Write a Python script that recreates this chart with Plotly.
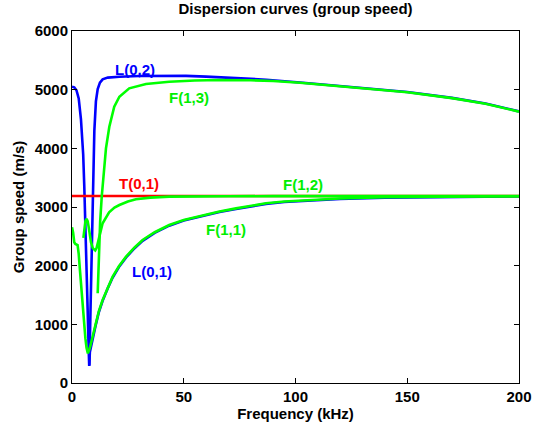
import plotly.graph_objects as go

# ---- data ----
f_L01 = [0, 1, 2, 3, 4, 4.5, 5, 5.5, 6, 6.5, 7, 7.4, 7.7, 8, 9, 10.7, 12, 13.7, 16, 18.2, 21, 24.2, 28, 31.6, 37, 43.5, 50, 58.5, 66, 73.4, 80, 86.8, 95, 105, 120, 140, 165, 200]
v_L01 = [5050, 5040, 4990, 4850, 4500, 4250, 3900, 3350, 2750, 2000, 1250, 650, 290, 530, 720, 1000, 1205, 1400, 1615, 1797, 1977, 2140, 2297, 2424, 2558, 2681, 2769, 2852, 2914, 2967, 3010, 3053, 3085, 3110, 3136, 3157, 3170, 3180]

f_L02 = [7.75, 8.0, 8.3, 8.6, 8.9, 9.2, 9.6, 10, 10.7, 11.5, 12.5, 13.7, 16, 21.2, 30, 40, 51, 60, 75, 87, 102, 115, 130, 150, 170, 185, 200]
v_L02 = [300, 700, 1200, 1800, 2500, 3100, 3750, 4300, 4800, 5010, 5120, 5176, 5205, 5220, 5232, 5237, 5235, 5222, 5200, 5170, 5122, 5080, 5025, 4960, 4860, 4765, 4630]

f_T01 = [0, 50, 100, 150, 200]
v_T01 = [3188, 3188, 3188, 3188, 3188]

f_F11 = [0, 0.5, 1, 1.5, 2.5, 3, 3.5, 4, 4.5, 5, 5.5, 6, 6.5, 7.1, 8, 9, 10.7, 12, 13.7, 16, 18.2, 21, 24.2, 28, 31.6, 37, 43.5, 50, 58.5, 66, 73.4, 80, 86.8, 95, 105, 120, 140, 165, 200]
v_F11 = [2654, 2560, 2400, 2370, 2350, 2200, 1950, 1690, 1450, 1200, 960, 760, 600, 504, 600, 760, 1018, 1220, 1415, 1630, 1812, 1990, 2153, 2310, 2437, 2570, 2693, 2780, 2863, 2925, 2977, 3020, 3063, 3095, 3120, 3145, 3165, 3176, 3184]

f_F12 = [5.1, 5.5, 6, 6.5, 7, 7.5, 8, 8.5, 9.3, 10.4, 11, 12.2, 13, 13.7, 16.6, 19, 21.2, 25, 28.6, 35, 43.5, 55, 70, 90, 120, 200]
v_F12 = [2474, 2650, 2760, 2796, 2760, 2650, 2520, 2400, 2300, 2260, 2300, 2480, 2620, 2722, 2910, 2990, 3034, 3095, 3131, 3160, 3176, 3182, 3184, 3185, 3186, 3186]

f_F13 = [11.5, 12.0, 12.6, 13.3, 14.2, 15.2, 16.7, 18.9, 21.2, 25.6, 33.1, 43.5, 55, 66, 80, 90, 102, 115, 130, 150, 170, 185, 200]
v_F13 = [1530, 2200, 2750, 3175, 3650, 4000, 4369, 4710, 4880, 5023, 5097, 5136, 5155, 5164, 5160, 5148, 5117, 5076, 5021, 4956, 4856, 4761, 4626]

labels = ["L(0,2)", "F(1,3)", "T(0,1)", "F(1,2)", "F(1,1)", "L(0,1)"]
label_f = [28.2, 52.3, 30.0, 103.4, 68.9, 35.8]
label_v = [5348, 4873, 3396, 3379, 2615, 1902]
label_col = ["#0000FF", "#00EE00", "#FF0000", "#00EE00", "#00EE00", "#0000FF"]

x_ticks = [0, 50, 100, 150, 200]
y_ticks = [0, 1000, 2000, 3000, 4000, 5000, 6000]

BLUE = "#0000FF"
RED = "#FF0000"
GREEN = "#00FF00"
LW = 2.6
FONT = "Liberation Sans"
FS = 15

fig = go.Figure()
fig.add_trace(go.Scatter(x=f_L01, y=v_L01, mode="lines", line=dict(color=BLUE, width=LW), name="L(0,1)"))
fig.add_trace(go.Scatter(x=f_L02, y=v_L02, mode="lines", line=dict(color=BLUE, width=LW), name="L(0,2)"))
fig.add_trace(go.Scatter(x=f_T01, y=v_T01, mode="lines", line=dict(color=RED, width=LW), name="T(0,1)"))
fig.add_trace(go.Scatter(x=f_F11, y=v_F11, mode="lines", line=dict(color=GREEN, width=LW), name="F(1,1)"))
fig.add_trace(go.Scatter(x=f_F12, y=v_F12, mode="lines", line=dict(color=GREEN, width=LW), name="F(1,2)"))
fig.add_trace(go.Scatter(x=f_F13, y=v_F13, mode="lines", line=dict(color=GREEN, width=LW), name="F(1,3)"))

for t, x, y, c in zip(labels, label_f, label_v, label_col):
    fig.add_annotation(x=x, y=y, text=t, showarrow=False,
                       font=dict(family=FONT, size=FS, color=c, weight="bold"))

axis_common = dict(showline=True, linecolor="black", linewidth=1, mirror="ticks",
                   ticks="inside", ticklen=5, tickcolor="black", showgrid=False,
                   zeroline=False, automargin=False,
                   tickfont=dict(family=FONT, size=FS, color="black", weight="bold"))

fig.update_xaxes(range=[0, 200], tickvals=x_ticks, ticktext=[str(v) for v in x_ticks],
                 title=dict(text="Frequency (kHz)", standoff=2,
                            font=dict(family=FONT, size=FS, color="black", weight="bold")),
                 **axis_common)
fig.update_yaxes(range=[0, 6000], tickvals=y_ticks, ticktext=[str(v) for v in y_ticks],
                 title=dict(text="Group speed (m/s)", standoff=6,
                            font=dict(family=FONT, size=FS, color="black", weight="bold")),
                 **axis_common)

fig.update_layout(
    width=533, height=430,
    margin=dict(l=72, r=14, t=31, b=47, pad=0),
    paper_bgcolor="white", plot_bgcolor="white",
    showlegend=False,
    title=dict(text="Dispersion curves (group speed)", x=(72 + 519) / 2 / 533, xanchor="center",
               y=1 - 3 / 430, yanchor="top", yref="container",
               font=dict(family=FONT, size=FS, color="black", weight="bold")),
)

fig.write_html("out.html", config={"displayModeBar": False},
               post_script="document.body.style.margin='0';document.body.style.padding='0';")
